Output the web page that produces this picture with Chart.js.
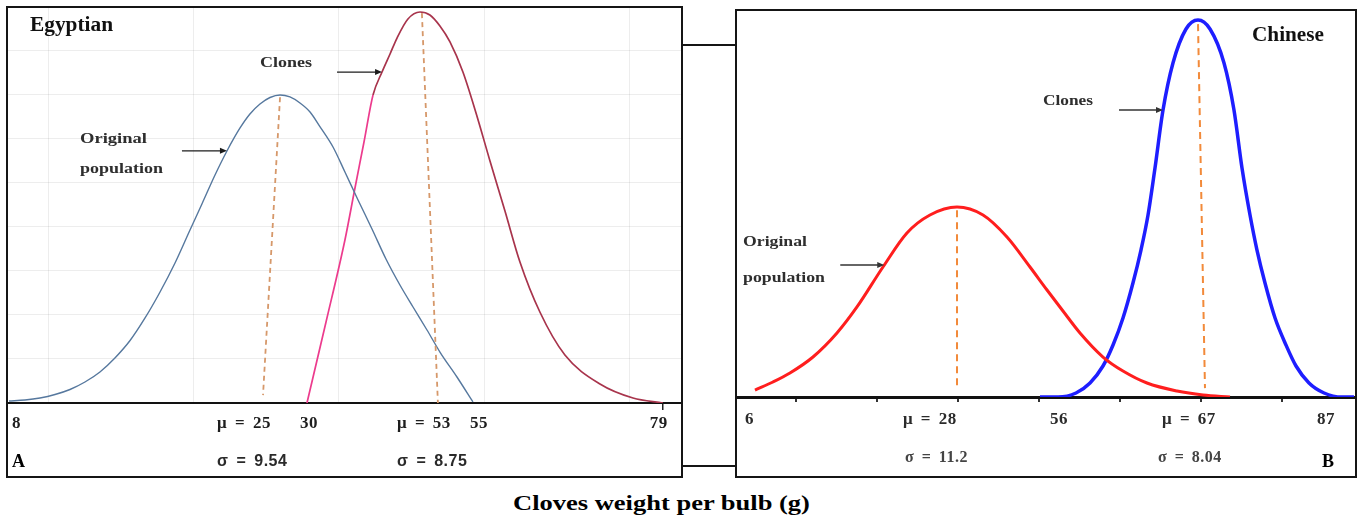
<!DOCTYPE html>
<html>
<head>
<meta charset="utf-8">
<title>Cloves weight per bulb</title>
<script src="https://cdn.jsdelivr.net/npm/chart.js@4.4.1/dist/chart.umd.min.js"></script>
<style>
html,body{margin:0;padding:0;background:#fff;}
body{width:1361px;height:520px;position:relative;overflow:hidden;}
.box{position:absolute;border:2px solid #151515;box-sizing:border-box;}
.hl{position:absolute;height:2px;background:#151515;}
canvas{position:absolute;}
.t{position:absolute;white-space:nowrap;font-family:"Liberation Serif","Times New Roman",serif;font-weight:bold;line-height:1;transform-origin:0 0;color:#111;}
.a{font-size:15px;color:#2e2e2e;}
</style>
</head>
<body>
<div class="box" style="left:6px;top:6px;width:677px;height:472px"></div>
<div class="box" style="left:735px;top:9px;width:622px;height:469px"></div>
<div class="hl" style="left:683px;top:44px;width:52px"></div>
<div class="hl" style="left:683px;top:465px;width:52px"></div>
<canvas id="egy" width="673" height="468" style="left:8px;top:8px;width:673px;height:468px"></canvas>
<canvas id="chn" width="618" height="465" style="left:737px;top:11px;width:618px;height:465px"></canvas>

<div class="t" data-w="83" style="left:30px;top:14px;font-size:20px">Egyptian</div>
<div class="t" data-w="72" style="left:1252px;top:24px;font-size:20px">Chinese</div>
<div class="t a" data-w="52" style="left:260px;top:55px">Clones</div>
<div class="t a" data-w="67" style="left:80px;top:131px">Original</div>
<div class="t a" data-w="83" style="left:80px;top:161px">population</div>
<div class="t a" data-w="50" style="left:1043px;top:93px">Clones</div>
<div class="t a" data-w="64" style="left:743px;top:234px">Original</div>
<div class="t a" data-w="82" style="left:743px;top:270px">population</div>
<div class="t" data-w="297" style="left:513px;top:493px;font-size:21px;color:#000">Cloves weight per bulb (g)</div>

<script>
// ---------------- DATA ----------------
// Panel A (Egyptian): x in plot-grid units, y in plot-grid units above the axis
const egyOrigX = [0.732,0.842,0.945,1.048,1.151,1.254,1.357,1.460,1.564,1.667,1.770,1.873,1.976,2.058,2.148,2.230,2.320,2.388,2.457,2.526,2.595,2.663,2.732,2.801,2.869,2.959,3.041,3.131,3.227,3.323,3.419,3.509,3.605,3.694,3.811,3.921];
const egyOrigY = [0.045,0.068,0.114,0.193,0.307,0.477,0.705,1.023,1.420,1.932,2.523,3.182,3.932,4.523,5.182,5.727,6.250,6.568,6.795,6.943,7.000,6.955,6.818,6.614,6.282,5.818,5.250,4.614,3.955,3.273,2.682,2.182,1.659,1.159,0.591,0.023];
const egyClonX = [2.780,2.911,3.041,3.110,3.172,3.234,3.296,3.351,3.399,3.474,3.557,3.625,3.694,3.763,3.852,3.942,4.038,4.141,4.244,4.381,4.553,4.794,5.021,5.227];
const egyClonY = [0,1.841,3.705,4.886,5.932,7.000,7.523,7.932,8.295,8.727,8.886,8.818,8.568,8.205,7.523,6.591,5.500,4.364,3.205,2.068,1.091,0.432,0.114,0];
const egyMeanOrigX = [2.595,2.478];
const egyMeanOrigY = [6.95,0.18];
const egyMeanClonX = [3.570,3.680];
const egyMeanClonY = [8.86,0];
const egyTickPos = [0.753,2.162,2.732,3.399,3.900,5.137];
const egyTickLabels = ['8','\u03bc = 25','30','\u03bc = 53','55','79'];
const egySigmaPos = [0.753,2.162,3.399];
const egySigmaLabels = ['A','\u03c3 = 9.54','\u03c3 = 8.75'];
const egyEndTick = [5.227];
const egyArrowX = [3.296,2.230];
const egyArrowY = [7.52,5.73];

// Panel B (Chinese): x in axis-tick units, y in % of panel height
const chnOrigX = [0.494,0.716,0.926,1.210,1.506,1.753,2.074,2.370,2.654,2.988,3.309,3.605,3.889,4.099,4.296,4.506,4.790,5.037,5.333,5.704,6.025,6.358];
const chnOrigY = [1.81,3.89,6.22,10.36,16.58,23.32,33.68,42.49,47.15,49.22,47.15,41.45,33.68,27.72,22.28,16.58,10.36,6.74,3.63,1.55,0.52,0];
const chnClonX = [4.012,4.235,4.457,4.630,4.790,4.914,5.037,5.160,5.259,5.346,5.432,5.531,5.654,5.815,5.963,6.111,6.284,6.407,6.506,6.605,6.691,6.790,6.914,7.049,7.173,7.333,7.519,7.741,7.889];
const chnClonY = [0,0,1.04,3.63,8.03,13.47,20.47,29.53,38.08,47.15,59.33,74.35,86.53,95.34,97.67,95.34,86.53,74.35,59.33,47.15,38.08,29.53,20.47,13.47,8.03,3.63,1.04,0,0];
const chnMeanOrigX = [2.988,2.988];
const chnMeanOrigY = [48.4,2.3];
const chnMeanClonX = [5.963,6.049];
const chnMeanClonY = [96.6,2.3];
const chnTickPos = [0.370,2.321,4.136,5.519,7.432];
const chnTickLabels = ['6','\u03bc = 28','56','\u03bc = 67','87'];
const chnSigmaPos = [2.346,5.469,7.494];
const chnSigmaLabels = ['\u03c3 = 11.2','\u03c3 = 8.04','B'];
const chnArrowX = [5.531,2.090];
const chnArrowY = [74.35,34.2];

// ---------------- helpers ----------------
const pts = (xs, ys) => xs.map((x, i) => ({x, y: ys[i]}));
const SERIF = '"Liberation Serif","Times New Roman",serif';
const SANS = '"Liberation Sans",Arial,sans-serif';

const spacingPlugin = { id: 'ls', beforeDraw(chart) { chart.ctx.letterSpacing = '0.5px'; chart.ctx.wordSpacing = '3px'; } };
const arrowPlugin = {
  id: 'arrows',
  afterDatasetsDraw(chart, args, o) {
    if (!o || !o.xs) return;
    const {ctx, scales} = chart;
    ctx.save();
    ctx.strokeStyle = o.color; ctx.fillStyle = o.color; ctx.lineWidth = o.width;
    o.xs.forEach((xv, i) => {
      const px = scales.x.getPixelForValue(xv), py = scales.y.getPixelForValue(o.ys[i]);
      const L = o.len, hd = 7;
      ctx.beginPath(); ctx.moveTo(px - L, py); ctx.lineTo(px - hd + 1, py); ctx.stroke();
      ctx.beginPath(); ctx.moveTo(px, py); ctx.lineTo(px - hd, py - 3); ctx.lineTo(px - hd, py + 3); ctx.closePath(); ctx.fill();
    });
    ctx.restore();
  }
};

function labelAxis(min, max, pos, labels, font, color, pad, weight, h, borderW) {
  return {
    type: 'linear', position: 'bottom', min, max, weight,
    afterBuildTicks: s => { s.ticks = pos.map(v => ({value: v})); },
    afterFit: s => { s.height = h; s.paddingLeft = 0; s.paddingRight = 0; },
    ticks: { autoSkip: false, maxRotation: 0, minRotation: 0, align: 'start', padding: pad,
             callback: (v, i) => labels[i], font, color },
    grid: { drawOnChartArea: false, drawTicks: false },
    border: borderW ? { display: true, color: '#121212', width: borderW } : { display: false }
  };
}
function markAxis(min, max, extra) {
  return Object.assign({
    type: 'linear', position: 'bottom', min, max, weight: -2,
    afterFit: s => { s.height = 0; s.paddingLeft = 0; s.paddingRight = 0; },
    ticks: { display: false, stepSize: 1, includeBounds: false },
    border: { display: false }
  }, extra);
}
function lineDs(data, color, width, extra) {
  return Object.assign({ data, borderColor: color, borderWidth: width, pointRadius: 0, fill: false,
    tension: 0, xAxisID: 'x', yAxisID: 'y' }, extra || {});
}

// ---------------- Panel A ----------------
const EX0 = 0.725, EX1 = 5.351;
new Chart(document.getElementById('egy'), {
  type: 'line',
  data: { datasets: [
    lineDs(pts(egyMeanOrigX, egyMeanOrigY), '#d6986a', 1.8, { borderDash: [5, 4] }),
    lineDs(pts(egyMeanClonX, egyMeanClonY), '#d6986a', 1.8, { borderDash: [5, 4] }),
    lineDs(pts(egyOrigX, egyOrigY), '#56789e', 1.4, { cubicInterpolationMode: 'monotone' }),
    lineDs(pts(egyClonX, egyClonY), '#ec3b8d', 1.7, { cubicInterpolationMode: 'monotone',
      segment: { borderColor: c => c.p0DataIndex >= 5 ? '#a8344c' : '#ec3b8d' } })
  ]},
  options: {
    responsive: false, animation: false, events: [],
    layout: { padding: 0 },
    plugins: { legend: { display: false }, tooltip: { enabled: false },
      arrows: { xs: egyArrowX, ys: egyArrowY, len: 45, color: '#1c1c1c', width: 1.4 } },
    scales: {
      xg: markAxis(EX0, EX1, { grid: { color: 'rgba(0,0,0,0.07)', drawTicks: false } }),
      xt: markAxis(EX0, EX1, { weight: -1,
        afterBuildTicks: s => { s.ticks = egyEndTick.map(v => ({value: v})); },
        grid: { drawOnChartArea: false, drawTicks: true, tickLength: 7, color: '#222', lineWidth: 1.5 } }),
      x: labelAxis(EX0, EX1, egyTickPos, egyTickLabels,
        { family: SERIF, size: 17, weight: 'bold', lineHeight: '20px' }, '#1e1e1e', 11, 0, 36, 2),
      x2: labelAxis(EX0, EX1, egySigmaPos, egySigmaLabels,
        c => c.index === 0 ? { family: SERIF, size: 18, weight: 'bold', lineHeight: '22px' }
                           : { family: SANS, size: 16, weight: 'bold', lineHeight: '22px' },
        c => c.index === 0 ? '#000' : '#2a2a2a', 12, 1, 37, 0),
      y: { type: 'linear', position: 'left', min: 0, max: 8.977,
        afterFit: s => { s.width = 0; s.paddingTop = 0; s.paddingBottom = 0; },
        ticks: { display: false, stepSize: 1, includeBounds: false },
        grid: { color: 'rgba(0,0,0,0.07)', drawTicks: false },
        border: { display: false } }
    }
  },
  plugins: [spacingPlugin, arrowPlugin]
});

// ---------------- Panel B ----------------
const CX0 = 0.272, CX1 = 7.901;
new Chart(document.getElementById('chn'), {
  type: 'line',
  data: { datasets: [
    lineDs(pts(chnMeanOrigX, chnMeanOrigY), '#f28a3a', 2, { borderDash: [7, 5] }),
    lineDs(pts(chnMeanClonX, chnMeanClonY), '#f28a3a', 2, { borderDash: [7, 5] }),
    lineDs(pts(chnOrigX, chnOrigY), '#ff1e1e', 3, { cubicInterpolationMode: 'monotone' }),
    lineDs(pts(chnClonX, chnClonY), '#1e1eff', 3.5, { cubicInterpolationMode: 'monotone' })
  ]},
  options: {
    responsive: false, animation: false, events: [],
    layout: { padding: 0 },
    plugins: { legend: { display: false }, tooltip: { enabled: false },
      arrows: { xs: chnArrowX, ys: chnArrowY, len: 44, color: '#333', width: 1.3 } },
    scales: {
      xt: markAxis(CX0, CX1, { weight: -1,
        grid: { drawOnChartArea: false, drawTicks: true, tickLength: 5, color: '#333', lineWidth: 2 } }),
      x: labelAxis(CX0, CX1, chnTickPos, chnTickLabels,
        { family: SERIF, size: 17, weight: 'bold', lineHeight: '20px' }, '#2b2b2b', 13, 0, 40, 3),
      x2: labelAxis(CX0, CX1, chnSigmaPos, chnSigmaLabels,
        c => c.index === 2 ? { family: SERIF, size: 18, weight: 'bold', lineHeight: '30px' }
                           : { family: SERIF, size: 16, weight: 'bold', lineHeight: '22px' },
        c => c.index === 2 ? '#000' : '#444', 10, 1, 39, 0),
      y: { type: 'linear', display: false, min: 0, max: 100 }
    }
  },
  plugins: [spacingPlugin, arrowPlugin]
});

// stretch annotation text to the widths seen in the figure
document.querySelectorAll('.t').forEach(el => {
  const w = +el.dataset.w, nat = el.getBoundingClientRect().width;
  if (nat > 0) el.style.transform = 'scaleX(' + (w / nat).toFixed(3) + ')';
});
</script>
</body>
</html>
